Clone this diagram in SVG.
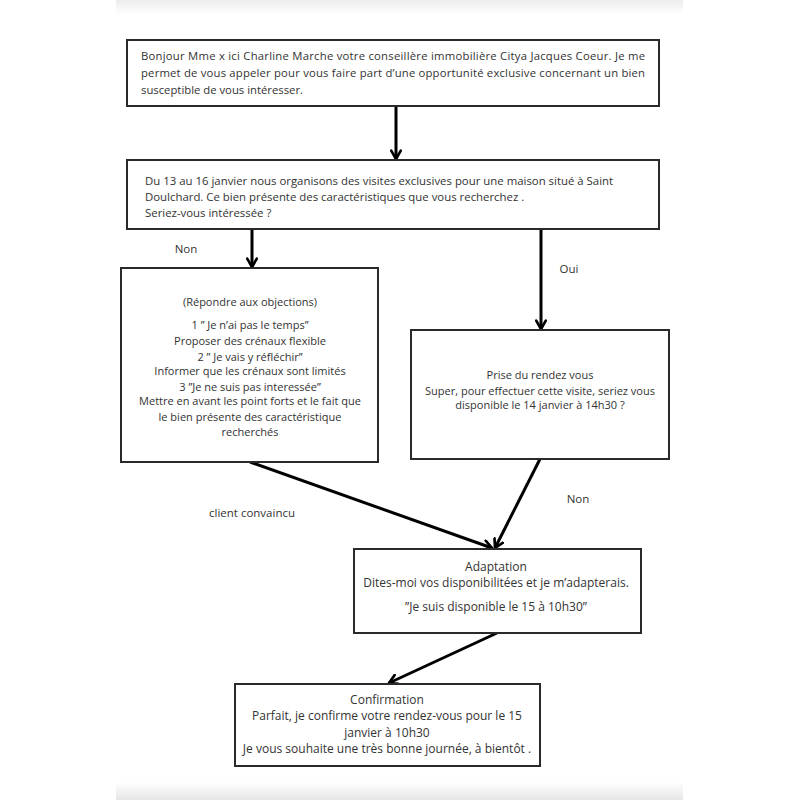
<svg xmlns="http://www.w3.org/2000/svg" width="800" height="800" viewBox="0 0 800 800">
<defs>
<linearGradient id="gt" x1="0" y1="0" x2="0" y2="1"><stop offset="0" stop-color="#ececec"/><stop offset="1" stop-color="#ffffff"/></linearGradient>
<linearGradient id="gb" x1="0" y1="0" x2="0" y2="1"><stop offset="0" stop-color="#ffffff"/><stop offset="1" stop-color="#e6e6e6"/></linearGradient>
<marker id="ah" viewBox="0 0 10 10" refX="8" refY="5" markerWidth="4" markerHeight="4" orient="auto" markerUnits="strokeWidth">
<path d="M1,1 L8,5 L1,9" fill="none" stroke="#000" stroke-width="2.2" stroke-linecap="round" stroke-linejoin="round"/>
</marker>
<style>
.box{fill:#fff;stroke:#2a2a2a;stroke-width:2}
.t{font-family:"Open Sans","Noto Sans","DejaVu Sans",sans-serif;font-size:12px;fill:#333}
.s11{font-size:11px}
.s113{font-size:11.3px}
.s114{font-size:11.4px}
.s115{font-size:11.5px}
.c{text-anchor:middle}
.con{fill:none;stroke:#000;stroke-width:3;marker-end:url(#ah)}
</style>
</defs>
<rect x="0" y="0" width="800" height="800" fill="#fff"/>
<rect x="116" y="0" width="567" height="14" fill="url(#gt)"/>
<rect x="116" y="782" width="567" height="18" fill="url(#gb)"/>

<g id="connectors">
<line class="con" x1="396" y1="106" x2="396" y2="159"/>
<line class="con" x1="252" y1="229" x2="252" y2="267"/>
<line class="con" x1="541" y1="229" x2="541" y2="329"/>
<line class="con" x1="250" y1="462" x2="492" y2="548"/>
<line class="con" x1="540" y1="459" x2="495" y2="548"/>
<line class="con" x1="497" y1="633" x2="389" y2="683"/>
<text class="t s115 c" x="186" y="253">Non</text>
<text class="t s115 c" x="569" y="273">Oui</text>
<text class="t s115 c" x="252" y="517">client convaincu</text>
<text class="t s115 c" x="578" y="503">Non</text>
</g>

<g id="n1">
<rect class="box" x="127" y="40" width="532" height="66"/>
<text class="t s113" x="141" y="60" textLength="504" lengthAdjust="spacing">Bonjour Mme x ici Charline Marche votre conseillère immobilière Citya Jacques Coeur. Je me</text>
<text class="t s113" x="141" y="77" textLength="504" lengthAdjust="spacing">permet de vous appeler pour vous faire part d’une opportunité exclusive concernant un bien</text>
<text class="t s113" x="141" y="94">susceptible de vous intéresser.</text>
</g>

<g id="n2">
<rect class="box" x="127" y="160" width="532" height="69"/>
<text class="t s114" x="145" y="185">Du 13 au 16 janvier nous organisons des visites exclusives pour une maison situé à Saint</text>
<text class="t s114" x="145" y="201">Doulchard. Ce bien présente des caractéristiques que vous recherchez .</text>
<text class="t s114" x="145" y="217">Seriez-vous intéressée ?</text>
</g>

<g id="n3">
<rect class="box" x="121" y="268" width="257" height="194"/>
<text class="t s11 c" x="250" y="306">(Répondre aux objections)</text>
<text class="t s11 c" x="250" y="329">1 ” Je n’ai pas le temps”</text>
<text class="t s11 c" x="250" y="345">Proposer des crénaux flexible</text>
<text class="t s11 c" x="250" y="361">2 ” Je vais y réfléchir”</text>
<text class="t s11 c" x="250" y="375">Informer que les crénaux sont limités</text>
<text class="t s11 c" x="250" y="391">3 ”Je ne suis pas interessée”</text>
<text class="t s11 c" x="250" y="405">Mettre en avant les point forts et le fait que</text>
<text class="t s11 c" x="250" y="421">le bien présente des caractéristique</text>
<text class="t s11 c" x="250" y="436">recherchés</text>
</g>

<g id="n4">
<rect class="box" x="411" y="330" width="258" height="129"/>
<text class="t s11 c" x="540" y="379">Prise du rendez vous</text>
<text class="t s11 c" x="540" y="395">Super, pour effectuer cette visite, seriez vous</text>
<text class="t s11 c" x="540" y="409">disponible le 14 janvier à 14h30 ?</text>
</g>

<g id="n5">
<rect class="box" x="354" y="549" width="287" height="84"/>
<text class="t c" x="496" y="571">Adaptation</text>
<text class="t c" x="496" y="587">Dites-moi vos disponibilitées et je m’adapterais.</text>
<text class="t c" x="496" y="611">”Je suis disponible le 15 à 10h30”</text>
</g>

<g id="n6">
<rect class="box" x="235" y="684" width="305" height="82"/>
<text class="t c" x="387" y="704">Confirmation</text>
<text class="t c" x="387" y="720">Parfait, je confirme votre rendez-vous pour le 15</text>
<text class="t c" x="387" y="737">janvier à 10h30</text>
<text class="t c" x="387" y="753">Je vous souhaite une très bonne journée, à bientôt .</text>
</g>
</svg>
